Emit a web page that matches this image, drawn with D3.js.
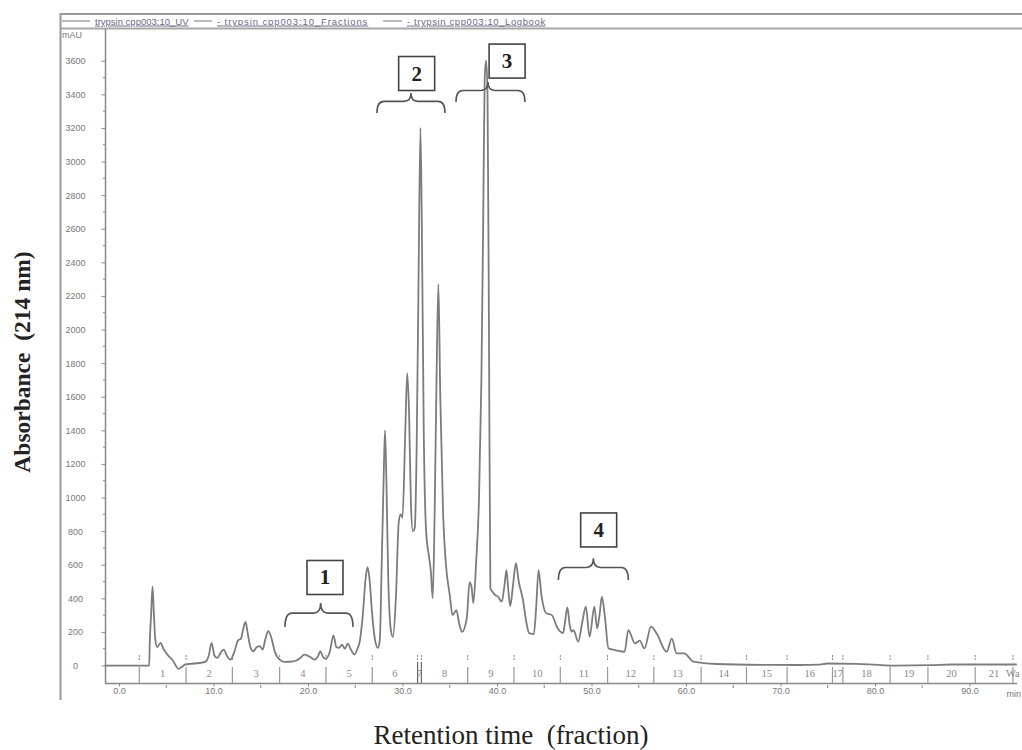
<!DOCTYPE html>
<html>
<head>
<meta charset="utf-8">
<script src="https://cdn.jsdelivr.net/npm/d3@7"></script>
<style>
  html, body { margin: 0; padding: 0; background: #fff; }
  svg { display: block; }
</style>
</head>
<body>
<svg id="chart" width="1022" height="750"></svg>
<script>
// ---------------- data ----------------
const timeMin = [-1.5, 3.0, 3.2, 3.25, 3.4, 3.55, 3.7, 3.85, 4.05, 4.4, 4.7, 5.2, 5.7, 6.3, 6.6, 7.0, 7.5, 8.5, 9.2, 9.5,
  9.8, 10.1, 10.4, 10.8, 11.1, 11.4, 11.8, 12.2, 12.6, 12.9, 13.2, 13.4, 13.6, 13.9, 14.2, 14.6, 14.9, 15.2, 15.5, 15.8,
  16.1, 16.5, 17.0, 17.5, 18.5, 19.2, 19.6, 20.1, 20.7, 21.1, 21.3, 21.6, 21.9, 22.3, 22.7, 23.0, 23.3, 23.6, 23.9, 24.2,
  24.5, 24.9, 25.2, 25.5, 25.8, 26.1, 26.3, 26.5, 26.8, 27.1, 27.4, 27.6, 27.8, 28.0, 28.15, 28.3, 28.5, 28.8, 29.0, 29.3,
  29.6, 29.8, 30.0, 30.3, 30.5, 30.7, 30.9, 31.1, 31.3, 31.5, 31.7, 31.9, 32.05, 32.25, 32.5, 32.8, 33.0, 33.2, 33.4, 33.6,
  33.8, 34.0, 34.3, 34.6, 35.0, 35.3, 35.7, 36.0, 36.3, 36.8, 37.1, 37.3, 37.5, 37.8, 38.1, 38.35, 38.55, 38.7, 38.85, 39.0,
  39.15, 39.3, 39.5, 39.8, 40.1, 40.5, 40.8, 41.0, 41.2, 41.4, 41.7, 42.0, 42.3, 42.75, 43.1, 43.4, 43.9, 44.15, 44.4, 44.7,
  45.2, 45.8, 46.4, 47.0, 47.2, 47.45, 47.7, 47.9, 48.1, 48.6, 49.0, 49.4, 49.8, 50.3, 50.6, 50.85, 51.1, 51.4, 51.8, 52.5,
  53.5, 53.9, 54.6, 55.1, 55.6, 56.3, 56.9, 57.95, 58.5, 59.0, 59.8, 60.8, 63.2, 68.0, 72.0, 74.0, 75.0, 78.0, 80.0, 82.0,
  86.0, 88.0, 95.0];
const absorbance = [0, 0, 0, 120, 300, 470, 300, 150, 110, 135, 100, 60, 30, -20, -10, 5, 10, 15, 25, 60,
  135, 60, 45, 80, 95, 60, 35, 80, 150, 160, 230, 260, 200, 110, 85, 110, 115, 95, 160, 205,
  170, 80, 35, 22, 25, 45, 65, 55, 35, 60, 85, 50, 40, 80, 180, 110, 105, 125, 100, 130,
  100, 65, 95, 150, 300, 520, 585, 520, 300, 150, 105, 150, 600, 1100, 1400, 1100, 500, 200, 170, 400,
  850, 900, 880, 1400, 1740, 1500, 950, 800, 820, 1300, 2300, 3200, 2600, 1400, 800, 650, 560, 400, 900, 1700,
  2270, 1600, 900, 600, 420, 300, 330, 250, 200, 280, 495, 470, 372, 620, 1000, 1700, 2700, 3500, 3600, 3400,
  2000, 460, 440, 420, 410, 380, 480, 568, 450, 354, 480, 610, 500, 390, 260, 193, 187, 350, 568, 420,
  312, 300, 223, 193, 260, 346, 240, 201, 210, 142, 250, 350, 171, 350, 221, 300, 410, 300, 102, 92,
  82, 211, 132, 148, 102, 231, 190, 82, 160, 72, 72, 23, 9, 4, 3, 5, 12, 10, 5, 0,
  2, 6, 6];

const yTickValues = [0, 200, 400, 600, 800, 1000, 1200, 1400, 1600, 1800, 2000, 2200, 2400, 2600, 2800, 3000, 3200, 3400, 3600];
const xTickValues = [0, 10, 20, 30, 40, 50, 60, 70, 80, 90];
const xTickLabels = ["0.0", "10.0", "20.0", "30.0", "40.0", "50.0", "60.0", "70.0", "80.0", "90.0"];

const fractionBounds = [2.15, 7.1, 12.0, 17.0, 21.9, 26.8, 31.6, 32.0, 36.9, 41.8, 46.7, 51.7, 56.6, 61.6, 66.4, 70.7, 75.5, 76.6, 81.6, 85.6, 90.6, 94.6];
const fractionLabels = ["1", "2", "3", "4", "5", "6", "7", "8", "9", "10", "11", "12", "13", "14", "15", "16", "17", "18", "19", "20", "21"];
const wasteLabel = "Wa";

const annLabels = ["1", "2", "3", "4"];
const annStart = [17.57, 27.3, 35.66, 46.5];   // brace ends (min)
const annEnd = [24.76, 34.5, 42.96, 53.9];
const annTip = [21.34, 30.9, 39.05, 50.2];     // brace tip (min)
const annTipLevel = [372, 3408, 3473, 638];    // mAU
const annEndLevel = [229, 3289, 3354, 509];
const annBoxT = [21.8, 31.5, 41.07, 50.76];
const annBoxV = [524, 3524, 3598, 807];

const legendItems = ["trypsin cpp003:10_UV", "- trypsin cpp003:10_Fractions", "- trypsin cpp003:10_Logbook"];

// ---------------- drawing ----------------
const svg = d3.select("#chart");
const gray = "#8a8a8a";
const x = d3.scaleLinear().domain([-1.5, 95]).range([104.8, 1016.75]);
const y = d3.scaleLinear().domain([-104, 3783]).range([683, 30]);

// frame
svg.append("line").attr("x1", 60.5).attr("x2", 1022).attr("y1", 14).attr("y2", 14)
  .attr("stroke", "#9a9a9a").attr("stroke-width", 2);
svg.append("line").attr("x1", 60.5).attr("x2", 1022).attr("y1", 28.5).attr("y2", 28.5)
  .attr("stroke", "#a8a8a8").attr("stroke-width", 2);
svg.append("line").attr("x1", 60.5).attr("x2", 60.5).attr("y1", 13).attr("y2", 700)
  .attr("stroke", "#9a9a9a").attr("stroke-width", 2);

// legend
const legX = [95, 217, 407];
const legLine = [[62, 90], [194, 212], [383, 402]];
const legSpacing = [0, 0.9, 0.6];
legendItems.forEach((t, i) => {
  svg.append("line").attr("x1", legLine[i][0]).attr("x2", legLine[i][1]).attr("y1", 21).attr("y2", 21)
    .attr("stroke", "#777").attr("stroke-width", 1);
  svg.append("text").attr("x", legX[i]).attr("y", 24.5).text(t)
    .attr("font-family", "Liberation Sans, Arial, sans-serif").attr("font-size", 9.5)
    .attr("letter-spacing", legSpacing[i])
    .attr("fill", "#6a6a8a").attr("text-decoration", "underline");
});

// mAU
svg.append("text").attr("x", 62).attr("y", 38).text("mAU")
  .attr("font-family", "Liberation Sans, Arial, sans-serif").attr("font-size", 9).attr("fill", "#777");

// y axis
const yAxis = d3.axisLeft(y).tickValues(yTickValues).tickSize(4).tickFormat(d3.format("d"));
const gy = svg.append("g").attr("transform", "translate(105.5,0)").call(yAxis);
gy.select(".domain").remove();
gy.selectAll(".tick line").attr("stroke", gray);
gy.selectAll(".tick text").attr("x", -30).attr("text-anchor", "middle").attr("fill", "#777")
  .attr("font-family", "Liberation Sans, Arial, sans-serif").attr("font-size", 9);
const yMinor = d3.range(100, 3700, 200);
svg.append("g").selectAll("line").data(yMinor).join("line")
  .attr("x1", 103).attr("x2", 105.5).attr("y1", d => y(d)).attr("y2", d => y(d))
  .attr("stroke", gray).attr("stroke-width", 1);
svg.append("line").attr("x1", 105.5).attr("x2", 105.5).attr("y1", 29).attr("y2", 683.5)
  .attr("stroke", "#888").attr("stroke-width", 1.5);

// x axis
const xAxis = d3.axisBottom(x).tickValues(xTickValues).tickSize(3).tickFormat((d, i) => xTickLabels[i]);
const gx = svg.append("g").attr("transform", "translate(0,683.5)").call(xAxis);
gx.select(".domain").remove();
gx.selectAll(".tick line").attr("stroke", gray);
gx.selectAll(".tick text").attr("fill", "#777").attr("dy", "0.55em")
  .attr("font-family", "Liberation Sans, Arial, sans-serif").attr("font-size", 9);
svg.append("g").selectAll("line").data(d3.range(5, 95, 10)).join("line")
  .attr("x1", d => x(d)).attr("x2", d => x(d)).attr("y1", 685).attr("y2", 688)
  .attr("stroke", gray);
svg.append("line").attr("x1", 105).attr("x2", 1017).attr("y1", 683.5).attr("y2", 683.5)
  .attr("stroke", "#888").attr("stroke-width", 1.5);
svg.append("text").attr("x", 1021).attr("y", 697).attr("text-anchor", "end").text("min")
  .attr("font-family", "Liberation Sans, Arial, sans-serif").attr("font-size", 9).attr("fill", "#777");

// fractions
const gf = svg.append("g");
fractionBounds.forEach((b, i) => {
  const bold = (i === 6 || i === 7);
  gf.append("line").attr("x1", x(b)).attr("x2", x(b)).attr("y1", 655).attr("y2", 661)
    .attr("stroke", "#888").attr("stroke-width", 1).attr("stroke-dasharray", "2,1");
  gf.append("line").attr("x1", x(b)).attr("x2", x(b)).attr("y1", bold ? 662 : 667).attr("y2", 683)
    .attr("stroke", bold ? "#666" : "#999").attr("stroke-width", 1.2);
});
fractionLabels.forEach((l, i) => {
  const c = (fractionBounds[i] + fractionBounds[i + 1]) / 2;
  gf.append("text").attr("x", x(c)).attr("y", 677).attr("text-anchor", "middle").text(l)
    .attr("font-family", "Liberation Serif, Times New Roman, serif").attr("font-size", 10.5).attr("fill", "#888");
});
gf.append("text").attr("x", x(fractionBounds[fractionBounds.length - 1]) - 7).attr("y", 677).text(wasteLabel)
  .attr("font-family", "Liberation Serif, Times New Roman, serif").attr("font-size", 10.5).attr("fill", "#888");

// trace
const pts = timeMin.map((t, i) => [t, absorbance[i]]);
const line = d3.line().x(d => x(d[0])).y(d => y(d[1])).curve(d3.curveMonotoneX);
svg.append("path").datum(pts).attr("d", line).attr("fill", "none")
  .attr("stroke", "#7c7c7c").attr("stroke-width", 1.8).attr("stroke-linejoin", "round");

// annotations
annLabels.forEach((lab, i) => {
  const x1 = x(annStart[i]), x2 = x(annEnd[i]), xm = x(annTip[i]);
  const y0 = y(annTipLevel[i]), y2 = y(annEndLevel[i]);
  const y1 = y0 + (y2 - y0) * 0.42;
  const r = 7;
  const p = `M${x1},${y2} Q${x1},${y1} ${x1 + r},${y1} L${xm - r},${y1} Q${xm},${y1} ${xm},${y0} ` +
            `Q${xm},${y1} ${xm + r},${y1} L${x2 - r},${y1} Q${x2},${y1} ${x2},${y2}`;
  svg.append("path").attr("d", p).attr("fill", "none").attr("stroke", "#555").attr("stroke-width", 1.6);
  const bx = x(annBoxT[i]), by = y(annBoxV[i]);
  svg.append("rect").attr("x", bx - 18).attr("y", by - 17).attr("width", 36).attr("height", 34)
    .attr("fill", "#fff").attr("stroke", "#444").attr("stroke-width", 1.6);
  svg.append("text").attr("x", bx).attr("y", by + 7).attr("text-anchor", "middle").text(lab)
    .attr("font-family", "Liberation Serif, Times New Roman, serif").attr("font-weight", "bold")
    .attr("font-size", 21).attr("fill", "#222");
});

// axis titles
svg.append("text").attr("transform", "translate(30,362) rotate(-90)").attr("text-anchor", "middle")
  .text("Absorbance  (214 nm)").attr("xml:space", "preserve")
  .attr("font-family", "Liberation Serif, Times New Roman, serif").attr("font-weight", "bold")
  .attr("font-size", 23.5).attr("fill", "#222");
svg.append("text").attr("x", 511).attr("y", 744).attr("text-anchor", "middle")
  .text("Retention time  (fraction)").attr("xml:space", "preserve")
  .attr("font-family", "Liberation Serif, Times New Roman, serif")
  .attr("font-size", 27).attr("fill", "#222");
</script>
</body>
</html>
